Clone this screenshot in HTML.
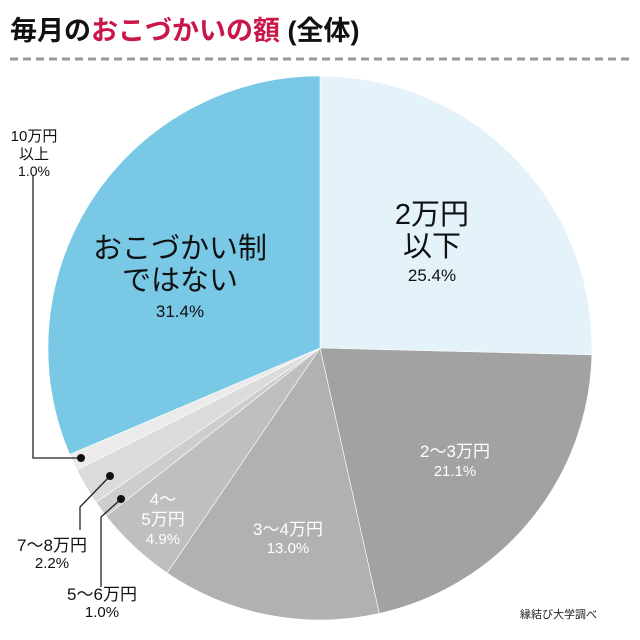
<!DOCTYPE html>
<html><head><meta charset="utf-8"><style>
body{margin:0;background:#fff;width:640px;height:635px;overflow:hidden;font-family:"Liberation Sans","Noto Sans CJK JP",sans-serif}
</style></head><body>
<svg id="s" width="640" height="635" viewBox="0 0 640 635" font-family="'Liberation Sans','Noto Sans CJK JP',sans-serif">
<text x="10" y="40" font-size="27" font-weight="bold" fill="#111">毎月の<tspan fill="#c8184a">おこづかいの額</tspan> (全体)</text>
<line x1="10" y1="59" x2="632" y2="59" stroke="#999" stroke-width="3" stroke-dasharray="8,5"/>
<g id="pie"></g>
<g fill="#fff" text-anchor="middle">
</g>
<g text-anchor="middle" fill="#111">
<text x="432" y="224" font-size="29">2万円</text>
<text x="432" y="256" font-size="29">以下</text>
<text x="432" y="281" font-size="17">25.4%</text>
<text x="180" y="258" font-size="29">おこづかい制</text>
<text x="180" y="290" font-size="29">ではない</text>
<text x="180" y="317" font-size="17">31.4%</text>
</g>
<g text-anchor="middle" fill="#fff">
<text x="455" y="457" font-size="17">2～3万円</text>
<text x="455" y="476" font-size="15">21.1%</text>
<text x="288" y="535" font-size="17">3～4万円</text>
<text x="288" y="553" font-size="15">13.0%</text>
<text x="163" y="505" font-size="17">4～</text>
<text x="163" y="525" font-size="17">5万円</text>
<text x="163" y="544" font-size="15">4.9%</text>
</g>
<g stroke="#222" stroke-width="1.3" fill="none">
<polyline points="80,458 33,458 33,175"/>
<polyline points="110,476 80,507 80,530"/>
<polyline points="121,499 101,517 101,587"/>
</g>
<g fill="#111"><circle cx="81" cy="458" r="4"/><circle cx="110" cy="476" r="4"/><circle cx="121" cy="499" r="4"/></g>
<g text-anchor="middle" fill="#111">
<text x="34" y="141" font-size="15">10万円</text>
<text x="34" y="159" font-size="15">以上</text>
<text x="34" y="176" font-size="14">1.0%</text>
<text x="52" y="551" font-size="17">7～8万円</text>
<text x="52" y="568" font-size="15">2.2%</text>
<text x="102" y="600" font-size="17">5～6万円</text>
<text x="102" y="617" font-size="15">1.0%</text>
</g>
<text x="597" y="618" font-size="11" text-anchor="end" fill="#222">縁結び大学調べ</text>
</svg>
<script>
var d=[[25.4,"#e4f3fa"],[21.1,"#a2a2a2"],[13.0,"#b1b1b1"],[4.9,"#bfbfbf"],[1.0,"#cdcdcd"],[2.2,"#dbdbdb"],[1.0,"#ebebeb"],[31.4,"#78c8e6"]];
var cx=320,cy=348,r=272,a=0,h="";
function p(t){var g=t/100*2*Math.PI;return [cx+r*Math.sin(g),cy-r*Math.cos(g)];}
d.forEach(function(e){var s=p(a),f=p(a+e[0]);var l=e[0]>50?1:0;
h+='<path d="M'+cx+','+cy+'L'+s[0].toFixed(2)+','+s[1].toFixed(2)+'A'+r+','+r+' 0 '+l+' 1 '+f[0].toFixed(2)+','+f[1].toFixed(2)+'Z" fill="'+e[1]+'" stroke="#fff" stroke-width="0.6"/>';a+=e[0];});
document.getElementById("pie").innerHTML=h;
</script>
</body></html>
